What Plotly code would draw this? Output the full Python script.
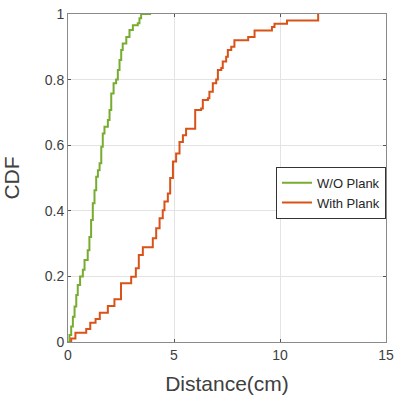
import plotly.graph_objects as go

green_x = [0, 0.07, 0.15, 0.23, 0.31, 0.39, 0.46, 0.57, 0.7, 0.78, 0.93, 1.01, 1.09, 1.17, 1.25,
           1.33, 1.41, 1.49, 1.57, 1.64, 1.72, 1.88, 1.96, 2.04, 2.15, 2.27, 2.35, 2.43, 2.51,
           2.58, 2.75, 2.9, 3.06, 3.29, 3.37, 3.45, 3.92]
green_y = [0, 0.021, 0.047, 0.077, 0.108, 0.143, 0.174, 0.2, 0.22, 0.25, 0.28, 0.32, 0.372, 0.423,
           0.463, 0.504, 0.524, 0.545, 0.595, 0.636, 0.656, 0.677, 0.707, 0.758, 0.789, 0.8, 0.829,
           0.86, 0.89, 0.91, 0.93, 0.951, 0.966, 0.972, 0.987, 1.0, 1.0]

red_x = [0.15, 0.15, 0.35, 0.86, 1.05, 1.3, 1.5, 1.88, 2.19, 2.5, 2.98, 3.2, 3.34, 3.53, 4.0, 4.16,
         4.32, 4.47, 4.55, 4.71, 4.82, 4.95, 5.1, 5.26, 5.42, 5.57, 6.0, 6.28, 6.36, 6.6, 6.67,
         6.83, 6.99, 7.07, 7.23, 7.3, 7.46, 7.54, 7.7, 7.85, 8.5, 8.8, 9.62, 9.74, 10.33, 11.8]
red_y = [0, 0.011, 0.028, 0.04, 0.059, 0.07, 0.089, 0.11, 0.13, 0.179, 0.199, 0.225, 0.265, 0.289,
         0.316, 0.347, 0.377, 0.402, 0.428, 0.453, 0.5, 0.55, 0.575, 0.61, 0.63, 0.65, 0.707, 0.712,
         0.738, 0.743, 0.763, 0.789, 0.8, 0.829, 0.835, 0.855, 0.87, 0.89, 0.9, 0.92, 0.93, 0.95,
         0.96, 0.97, 0.98, 1.0]

series_names = ["W/O Plank", "With Plank"]
x_ticks = [0, 5, 10, 15]
y_ticks = [0, 0.2, 0.4, 0.6, 0.8, 1]
y_ticklabels = ["0", "0.2", "0.4", "0.6", "0.8", "1"]

fig = go.Figure()
fig.add_trace(go.Scatter(x=green_x, y=green_y, mode="lines", line_shape="hv",
                         name=series_names[0], line=dict(color="#77AC30", width=2),
                         cliponaxis=False))
fig.add_trace(go.Scatter(x=red_x, y=red_y, mode="lines", line_shape="hv",
                         name=series_names[1], line=dict(color="#D95319", width=2),
                         cliponaxis=False))

axis_common = dict(showgrid=True, gridcolor="#e3e3e3", gridwidth=1, zeroline=False,
                   showline=True, linecolor="#8a8a8a", linewidth=1, mirror="ticks",
                   ticks="inside", ticklen=3, tickcolor="#555555", automargin=False,
                   ticklabeloverflow="allow",
                   tickfont=dict(size=14, color="#404040"))

fig.update_xaxes(range=[0, 15], tickvals=x_ticks, ticktext=[str(v) for v in x_ticks],
                 title=dict(text="Distance(cm)", font=dict(size=21, color="#404040"), standoff=14),
                 **axis_common)
fig.update_yaxes(range=[0, 1], tickvals=y_ticks, ticktext=y_ticklabels,
                 title=dict(text="CDF", font=dict(size=21, color="#404040"), standoff=22),
                 **axis_common)

fig.update_layout(
    width=395, height=399,
    margin=dict(l=68, r=9, t=14, b=57, autoexpand=False),
    paper_bgcolor="white", plot_bgcolor="white",
    font=dict(family="Liberation Sans, Arial, sans-serif", color="#404040"),
    legend=dict(x=1, xanchor="right", y=0.455, yanchor="middle",
                bgcolor="white", bordercolor="#333333", borderwidth=1,
                font=dict(size=13, color="#262626"), itemwidth=30,
                tracegroupgap=0),
    showlegend=True,
)

# remove the default page body margin so the figure fills the window exactly
fig.write_html("out.html", config={"displayModeBar": False},
               post_script="document.body.style.margin='0';document.body.style.overflow='hidden';")
